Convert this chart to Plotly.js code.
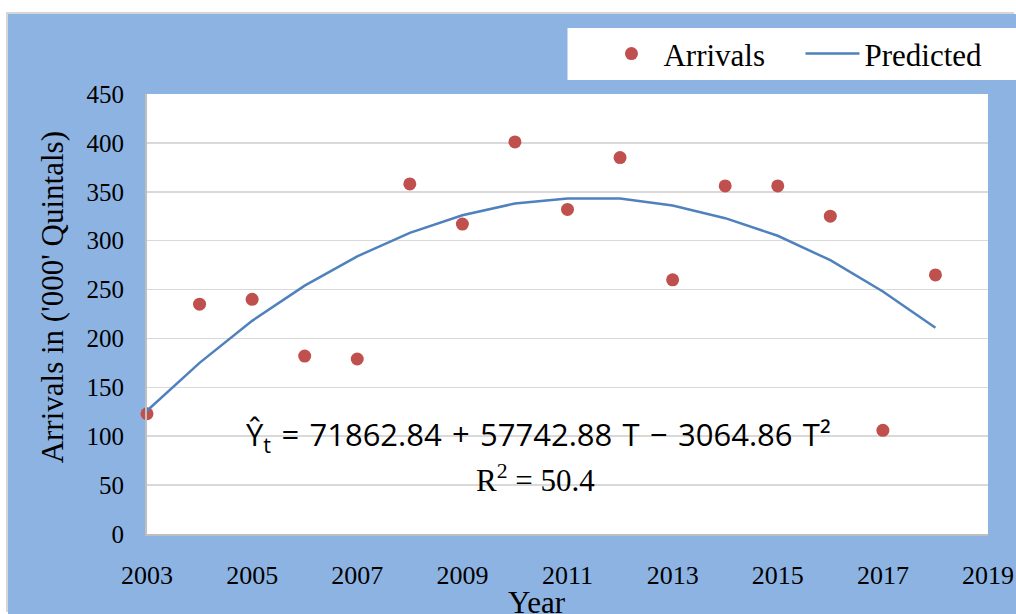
<!DOCTYPE html>
<html>
<head>
<meta charset="utf-8">
<script src="https://cdn.plot.ly/plotly-3.0.1.min.js"></script>
<style>
  html, body { margin:0; padding:0; background:#ffffff; width:1016px; height:614px; overflow:hidden; }
  #chart { position:absolute; left:8px; top:14px; width:1008px; height:600px; box-shadow:-2px -2px 0 #d6d6d6; }
</style>
</head>
<body>
<div id="chart"></div>
<script>
// Data
var years = [2003, 2004, 2005, 2006, 2007, 2008, 2009, 2010, 2011, 2012, 2013, 2014, 2015, 2016, 2017, 2018];
var arrivals = [123, 235, 240, 182, 179, 358, 317, 401, 332, 385, 260, 356, 356, 325, 106, 265];
var predicted = [126, 175, 218, 254, 284, 308, 326, 338, 343, 343, 336, 323, 305, 280, 248, 211];
var xTickVals = [2003, 2005, 2007, 2009, 2011, 2013, 2015, 2017, 2019];
var yTickVals = [0, 50, 100, 150, 200, 250, 300, 350, 400, 450];
var sp = '\u2004';
var equationText = 'Ŷ<sub>t</sub>' + sp + '=' + sp + '71862.84' + sp + '+' + sp + '57742.88' + sp + 'T' + sp + '−' + sp + '3064.86' + sp + 'T²';
var r2Text = 'R<sup>2</sup> = 50.4';

var serif = 'Liberation Serif, Times New Roman, serif';

var traces = [
  {
    x: years, y: arrivals, name: 'Arrivals', type: 'scatter', mode: 'markers',
    marker: { color: '#C0504D', size: 13 }, cliponaxis: false
  },
  {
    x: years, y: predicted, name: 'Predicted', type: 'scatter', mode: 'lines',
    line: { color: '#4F81BD', width: 2.5 }, cliponaxis: false
  }
];

var layout = {
  width: 1008, height: 600,
  paper_bgcolor: '#8DB3E2',
  plot_bgcolor: '#FFFFFF',
  margin: { l: 139, r: 28, t: 80, b: 80 },
  showlegend: true,
  legend: {
    orientation: 'h', x: 0.538, xanchor: 'left', y: 1.091, yanchor: 'middle',
    bgcolor: 'rgba(0,0,0,0)', font: { family: serif, size: 31, color: '#000' },
    itemwidth: 54, entrywidth: 132
  },
  xaxis: {
    range: [2003, 2019], tickvals: xTickVals, ticktext: xTickVals.map(String),
    showgrid: false, zeroline: false, showline: true, linecolor: '#BFBFBF', linewidth: 2,
    ticks: '', ticklabelstandoff: 17,
    tickfont: { family: serif, size: 26, color: '#000' }
  },
  yaxis: {
    range: [0, 450], tickvals: yTickVals, ticktext: yTickVals.map(String),
    showgrid: true, gridcolor: '#D9D9D9', gridwidth: 1.5, zeroline: false,
    showline: true, linecolor: '#BFBFBF', linewidth: 2,
    ticks: '', ticklabelstandoff: 16,
    tickfont: { family: serif, size: 25, color: '#000' }
  },
  shapes: [
    { type: 'rect', xref: 'paper', yref: 'paper', x0: 0.5, x1: 1.034, y0: 1.032, y1: 1.15,
      fillcolor: '#FFFFFF', line: { width: 0 }, layer: 'above' }
  ],
  annotations: [
    { text: equationText, x: 2010.44, y: 100, xref: 'x', yref: 'y', xanchor: 'center', yanchor: 'middle',
      showarrow: false, font: { family: 'Open Sans, Noto Sans, sans-serif', size: 31, color: '#000' } },
    { text: r2Text, x: 2010.4, y: 57, xref: 'x', yref: 'y', xanchor: 'center', yanchor: 'middle',
      showarrow: false, font: { family: serif, size: 31, color: '#000' } },
    { text: "Arrivals in ('000' Quintals)", x: -0.113, y: 242, xref: 'paper', yref: 'y',
      xanchor: 'center', yanchor: 'middle', textangle: -90, showarrow: false,
      font: { family: serif, size: 31, color: '#000' } },
    { text: 'Year', x: 2010.42, y: -0.155, xref: 'x', yref: 'paper', xanchor: 'center', yanchor: 'middle',
      showarrow: false, font: { family: serif, size: 31, color: '#000' } }
  ]
};

Plotly.newPlot('chart', traces, layout, { displayModeBar: false, staticPlot: true });
</script>
</body>
</html>
